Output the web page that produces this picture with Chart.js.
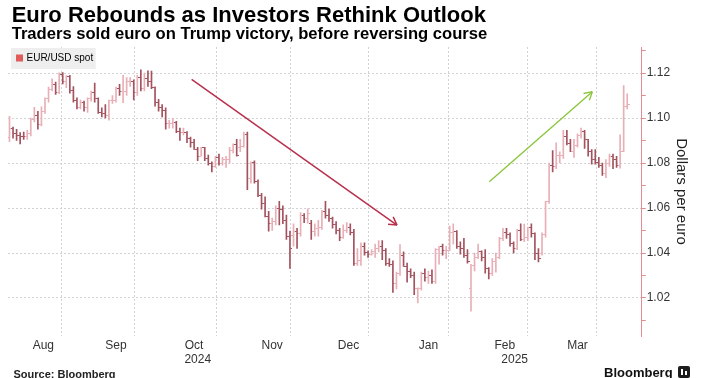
<!DOCTYPE html>
<html>
<head>
<meta charset="utf-8">
<script src="https://cdn.jsdelivr.net/npm/chart.js@4.4.1/dist/chart.umd.min.js"></script>
<style>
html,body{margin:0;padding:0;background:#fff;}
#wrap{position:relative;width:701px;height:378px;overflow:hidden;font-family:"Liberation Sans",Arial,sans-serif;}
#c{position:absolute;left:0;top:0;}
.t{position:absolute;white-space:nowrap;color:#000;font-weight:bold;}
#logo{position:absolute;left:678px;top:366px;width:12px;height:12px;background:#1d1d1d;border-radius:2px;}
#logo span{position:absolute;background:#fff;}
</style>
</head>
<body>
<div id="wrap">
<canvas id="c" width="701" height="378"></canvas>
<div class="t" style="left:11.7px;top:4px;font-size:22px;line-height:22px;">Euro Rebounds as Investors Rethink Outlook</div>
<div class="t" style="left:11.7px;top:26px;font-size:16.6px;line-height:16.6px;">Traders sold euro on Trump victory, before reversing course</div>
<div class="t" style="left:13.5px;top:369px;font-size:11px;line-height:11px;color:#222;">Source: Bloomberg</div>
<div class="t" style="left:604px;top:366px;font-size:13px;line-height:13px;color:#111;">Bloomberg</div>
<div id="logo"><span style="left:3px;top:3px;width:2px;height:6px;"></span><span style="left:6.5px;top:5px;width:2px;height:4px;"></span></div>
</div>
<script>
// ---------------- DATA ----------------
const firstDay = '2024-08-05';
const lastDay = '2025-04-04';
const seriesName = 'EUR/USD spot';
const monthLabels = ['Aug', 'Sep', 'Oct', 'Nov', 'Dec', 'Jan', 'Feb', 'Mar'];
const yearLabels = ['2024', '2025'];
const yTickValues = [1.01, 1.02, 1.03, 1.04, 1.05, 1.06, 1.07, 1.08, 1.09, 1.10, 1.11, 1.12, 1.13];
const yLabelValues = [1.02, 1.04, 1.06, 1.08, 1.10, 1.12];
const yAxisTitle = 'Dollars per euro';

const open = [
  1.0912,1.0953,1.0930,1.0922,1.0920,1.0917,1.0932,1.0993,1.1012,1.0969,1.1027,1.1087,1.1128,1.1151,1.1113,1.1192,1.1162,1.1184,1.1121,1.1077,
  1.1047,1.1070,1.1045,1.1087,1.1113,1.1085,1.1025,1.1018,1.1011,1.1076,1.1076,1.1132,1.1116,1.1117,1.1161,1.1163,1.1112,1.1180,1.1132,1.1177,1.1163,
  1.1135,1.1067,1.1047,1.1032,1.0975,1.0975,1.0978,1.0940,1.0935,1.0936,1.0909,1.0891,1.0862,1.0831,1.0867,1.0818,1.0797,1.0783,1.0826,1.0797,1.0817,1.0817,1.0856,
  1.0884,1.0870,1.0875,1.0928,1.0730,1.0802,1.0719,1.0655,1.0621,1.0563,1.0530,1.0541,1.0598,1.0595,1.0543,1.0473,1.0480,1.0495,1.0488,1.0566,1.0553,
  1.0530,1.0497,1.0510,1.0512,1.0586,1.0567,1.0554,1.0528,1.0500,1.0469,1.0502,1.0513,1.0491,1.0353,1.0365,1.0430,1.0404,1.0394,1.0408,1.0422,1.0430,1.0410,
  1.0354,1.0350,1.0265,1.0310,1.0388,1.0342,1.0319,1.0300,1.0240,1.0244,1.0308,1.0290,1.0300,1.0272,1.0416,1.0430,1.0410,1.0413,1.0493,1.0494,1.0430,1.0422,1.0390,
  1.0240,1.0345,1.0381,1.0405,1.0381,1.0330,1.0307,1.0362,1.0380,1.0464,1.0492,1.0484,1.0443,1.0422,1.0498,1.0458,1.0467,1.0512,1.0485,1.0398,
  1.0400,1.0482,1.0627,1.0790,1.0785,1.0833,1.0834,1.0918,1.0888,1.0852,1.0880,1.0922,1.0942,1.0903,1.0853,1.0815,1.0802,1.0791,1.0754,1.0800,1.0830,
  1.0816,1.0791,1.0851,1.1049
];
const high = [
  1.1008,1.0960,1.0950,1.0935,1.0937,1.0945,1.1000,1.1047,1.1030,1.1050,1.1090,1.1138,1.1174,1.1160,1.1201,1.1202,1.1189,1.1190,1.1140,1.1090,
  1.1080,1.1075,1.1090,1.1120,1.1155,1.1090,1.1045,1.1060,1.1080,1.1100,1.1137,1.1150,1.1190,1.1180,1.1180,1.1170,1.1190,1.1214,1.1200,1.1210,1.1209,
  1.1139,1.1083,1.1060,1.1045,1.0990,1.0998,1.0985,1.0955,1.0955,1.0940,1.0915,1.0905,1.0870,1.0870,1.0870,1.0835,1.0805,1.0830,1.0840,1.0825,1.0830,1.0870,1.0885,
  1.0905,1.0905,1.0937,1.0937,1.0805,1.0810,1.0725,1.0665,1.0650,1.0585,1.0555,1.0610,1.0630,1.0610,1.0568,1.0497,1.0530,1.0510,1.0580,1.0575,1.0596,
  1.0545,1.0530,1.0545,1.0590,1.0630,1.0595,1.0560,1.0540,1.0510,1.0525,1.0535,1.0530,1.0505,1.0420,1.0445,1.0445,1.0410,1.0415,1.0440,1.0455,1.0455,1.0420,
  1.0375,1.0365,1.0315,1.0437,1.0405,1.0355,1.0330,1.0315,1.0245,1.0315,1.0330,1.0320,1.0325,1.0420,1.0430,1.0440,1.0430,1.0520,1.0530,1.0500,1.0450,1.0465,1.0415,
  1.0350,1.0400,1.0440,1.0410,1.0415,1.0335,1.0375,1.0400,1.0470,1.0510,1.0510,1.0490,1.0450,1.0505,1.0530,1.0528,1.0515,1.0530,1.0490,1.0420,
  1.0490,1.0630,1.0800,1.0855,1.0890,1.0850,1.0945,1.0945,1.0905,1.0905,1.0930,1.0955,1.0945,1.0905,1.0860,1.0860,1.0825,1.0800,1.0815,1.0840,1.0840,
  1.0830,1.0925,1.1144,1.1107
];
const low = [
  1.0895,1.0910,1.0900,1.0885,1.0905,1.0905,1.0920,1.0983,1.0950,1.0965,1.1020,1.1070,1.1120,1.1105,1.1108,1.1152,1.1135,1.1110,1.1070,1.1040,
  1.1040,1.1030,1.1025,1.1075,1.1070,1.1020,1.1005,1.1000,1.0990,1.1065,1.1070,1.1100,1.1068,1.1100,1.1140,1.1080,1.1100,1.1120,1.1120,1.1140,1.1130,
  1.1053,1.1030,1.1005,1.0950,1.0955,1.0955,1.0935,1.0900,1.0925,1.0890,1.0870,1.0860,1.0810,1.0830,1.0810,1.0790,1.0760,1.0780,1.0790,1.0790,1.0780,1.0800,1.0845,
  1.0830,1.0850,1.0870,1.0682,1.0710,1.0710,1.0650,1.0595,1.0560,1.0497,1.0500,1.0525,1.0525,1.0530,1.0460,1.0332,1.0430,1.0420,1.0475,1.0535,1.0533,
  1.0460,1.0475,1.0475,1.0505,1.0555,1.0540,1.0510,1.0485,1.0455,1.0465,1.0490,1.0480,1.0345,1.0345,1.0345,1.0390,1.0380,1.0390,1.0380,1.0405,1.0370,1.0345,
  1.0340,1.0225,1.0240,1.0300,1.0340,1.0270,1.0290,1.0215,1.0178,1.0235,1.0275,1.0265,1.0265,1.0265,1.0350,1.0390,1.0375,1.0410,1.0440,1.0420,1.0395,1.0380,1.0355,
  1.0141,1.0320,1.0375,1.0365,1.0310,1.0285,1.0300,1.0315,1.0375,1.0455,1.0465,1.0430,1.0400,1.0415,1.0455,1.0450,1.0455,1.0470,1.0370,1.0360,
  1.0390,1.0470,1.0620,1.0760,1.0775,1.0800,1.0820,1.0880,1.0850,1.0825,1.0870,1.0910,1.0865,1.0830,1.0795,1.0795,1.0780,1.0745,1.0735,1.0785,1.0775,
  1.0780,1.0777,1.0850,1.1040
];
const close = [
  1.0953,1.0930,1.0922,1.0920,1.0917,1.0932,1.0993,1.1012,1.0969,1.1027,1.1087,1.1128,1.1151,1.1113,1.1192,1.1162,1.1184,1.1121,1.1077,1.1047,
  1.1070,1.1045,1.1087,1.1113,1.1085,1.1025,1.1018,1.1011,1.1076,1.1076,1.1132,1.1116,1.1117,1.1161,1.1163,1.1112,1.1180,1.1132,1.1177,1.1163,1.1135,
  1.1067,1.1047,1.1032,1.0975,1.0975,1.0978,1.0940,1.0935,1.0936,1.0909,1.0891,1.0862,1.0831,1.0867,1.0818,1.0797,1.0783,1.0826,1.0797,1.0817,1.0817,1.0856,1.0884,
  1.0833,1.0875,1.0928,1.0730,1.0802,1.0719,1.0655,1.0621,1.0563,1.0530,1.0541,1.0598,1.0595,1.0543,1.0473,1.0418,1.0495,1.0488,1.0566,1.0553,1.0576,
  1.0497,1.0510,1.0512,1.0586,1.0567,1.0554,1.0528,1.0500,1.0469,1.0502,1.0513,1.0491,1.0353,1.0365,1.0430,1.0404,1.0394,1.0408,1.0422,1.0430,1.0410,1.0354,
  1.0350,1.0265,1.0307,1.0388,1.0342,1.0319,1.0300,1.0244,1.0244,1.0308,1.0290,1.0300,1.0272,1.0416,1.0430,1.0410,1.0413,1.0493,1.0494,1.0430,1.0422,1.0390,1.0362,
  1.0345,1.0381,1.0405,1.0381,1.0330,1.0307,1.0362,1.0380,1.0464,1.0492,1.0484,1.0443,1.0422,1.0498,1.0458,1.0467,1.0512,1.0485,1.0398,1.0377,
  1.0482,1.0627,1.0790,1.0785,1.0833,1.0834,1.0918,1.0888,1.0852,1.0880,1.0922,1.0942,1.0903,1.0853,1.0815,1.0802,1.0791,1.0754,1.0800,1.0830,1.0816,
  1.0791,1.0851,1.1049,1.1062
];
// annotation arrows (x = trading-day index, y = EUR/USD level)
const downArrowX = [51.3, 109.15];
const downArrowY = [1.1172, 1.0524];
const upArrowX = [135.15, 164.17];
const upArrowY = [1.0717, 1.1117];

// ---------------- BUILD ----------------
function tradingDays(a, b) {
  const out = [];
  const d = new Date(a + 'T00:00:00Z'), e = new Date(b + 'T00:00:00Z');
  while (d <= e) {
    const w = d.getUTCDay();
    if (w !== 0 && w !== 6) out.push(d.toISOString().slice(0, 10));
    d.setUTCDate(d.getUTCDate() + 1);
  }
  return out;
}
const dates = tradingDays(firstDay, lastDay);
const idx = dates.map((d, i) => i);

const X_MIN = -0.42, X_MAX = 178.08;
const Y_MIN = 1.00311, Y_MAX = 1.13156;

const UP = '#e8afb6', DOWN = '#a3525e', GRID = '#d2d2d2', AXIS = '#e58a90';

// month boundaries from the dates
const bounds = [];
let yearBound = null;
for (let i = 1; i < dates.length; i++) {
  if (dates[i].slice(0, 7) !== dates[i - 1].slice(0, 7)) bounds.push(i - 0.5);
  if (dates[i].slice(0, 4) !== dates[i - 1].slice(0, 4)) yearBound = i - 0.5;
}
const edges = [X_MIN].concat(bounds);
const xTicks = [];
bounds.forEach(b => xTicks.push({value: b, lbl: '', grid: true}));
monthLabels.forEach((m, k) => xTicks.push({value: (edges[k] + edges[k + 1]) / 2, lbl: m, grid: false}));
xTicks.push({value: (X_MIN + yearBound) / 2, lbl: ['', yearLabels[0]], grid: false});
xTicks.push({value: (yearBound + X_MAX) / 2, lbl: ['', yearLabels[1]], grid: false});
xTicks.sort((a, b) => a.value - b.value);

const isLabeled = v => yLabelValues.some(l => Math.abs(l - v) < 1e-6);

function tickImg(color, side) {
  const c = document.createElement('canvas');
  c.width = 5; c.height = 1;
  const g = c.getContext('2d');
  g.fillStyle = color;
  if (side === 'L') g.fillRect(0, 0, 2, 1); else g.fillRect(3, 0, 2, 1);
  return c;
}
const imgs = {UL: tickImg(UP, 'L'), UR: tickImg(UP, 'R'), DL: tickImg(DOWN, 'L'), DR: tickImg(DOWN, 'R')};
const isUp = i => close[i] >= open[i];

// legend: placed inside the plot, top-left, on a light grey box
const legendBg = {
  id: 'legendBg',
  afterLayout(chart) {
    const lg = chart.legend;
    if (!lg || lg._bgPatched) return;
    const orig = lg.draw;
    lg.draw = function () {
      const ctx = this.ctx;
      const hb = this.legendHitBoxes && this.legendHitBoxes[0];
      const ca = this.chart.chartArea;
      if (!hb) { orig.apply(this, arguments); return; }
      const tx = ca.left + 9.5, ty = ca.top + 6;
      const dx = tx - hb.left, dy = ty - hb.top;
      ctx.save();
      ctx.fillStyle = '#eeeeee';
      const l = tx - 6.5, r = tx + hb.width + 2.5;
      ctx.fillRect(l, ty - 5, r - l, hb.height + 11);
      ctx.restore();
      ctx.save();
      ctx.translate(dx, dy);
      orig.apply(this, arguments);
      ctx.restore();
    };
    lg._bgPatched = true;
  }
};

const arrowHeads = {
  id: 'arrowHeads',
  afterDatasetsDraw(chart) {
    const ctx = chart.ctx;
    chart.data.datasets.forEach((ds, di) => {
      if (!ds.isArrow) return;
      const pts = chart.getDatasetMeta(di).data;
      if (pts.length < 2) return;
      const a = pts[pts.length - 2], b = pts[pts.length - 1];
      const ang = Math.atan2(b.y - a.y, b.x - a.x);
      ctx.save();
      ctx.strokeStyle = ds.borderColor;
      ctx.lineWidth = ds.borderWidth;
      ctx.beginPath();
      [-1, 1].forEach(s => {
        const t = ang + Math.PI + s * 0.52;
        ctx.moveTo(b.x, b.y);
        ctx.lineTo(b.x + 9 * Math.cos(t), b.y + 9 * Math.sin(t));
      });
      ctx.stroke();
      ctx.restore();
    });
  }
};

Chart.defaults.font.family = "'Liberation Sans', Arial, sans-serif";
Chart.defaults.color = '#333';

new Chart(document.getElementById('c'), {
  type: 'bar',
  data: {
    datasets: [
      {
        type: 'line', label: 'Selloff', isArrow: true, order: 0,
        data: downArrowX.map((x, k) => ({x: x, y: downArrowY[k]})),
        borderColor: '#b8304c', borderWidth: 1.5, pointRadius: 0, fill: false
      },
      {
        type: 'line', label: 'Rebound', isArrow: true, order: 0,
        data: upArrowX.map((x, k) => ({x: x, y: upArrowY[k]})),
        borderColor: '#8cc63f', borderWidth: 1.4, pointRadius: 0, fill: false
      },
      {
        type: 'line', label: 'Open', order: 1, showLine: false,
        data: idx.map(i => ({x: i, y: open[i]})),
        pointRadius: 1, pointStyle: idx.map(i => isUp(i) ? imgs.UL : imgs.DL)
      },
      {
        type: 'line', label: 'Close', order: 1, showLine: false,
        data: idx.map(i => ({x: i, y: close[i]})),
        pointRadius: 1, pointStyle: idx.map(i => isUp(i) ? imgs.UR : imgs.DR)
      },
      {
        type: 'bar', label: seriesName, order: 2,
        data: idx.map(i => ({x: i, y: [low[i], high[i]]})),
        backgroundColor: idx.map(i => isUp(i) ? UP : DOWN),
        borderWidth: 0, barThickness: 1, grouped: false
      }
    ]
  },
  options: {
    responsive: false,
    animation: false,
    devicePixelRatio: 1,
    events: [],
    layout: {padding: {top: 47, left: 8, right: 0, bottom: 0}},
    plugins: {
      title: {display: false},
      tooltip: {enabled: false},
      legend: {
        position: 'chartArea',
        align: 'start',
        labels: {
          boxWidth: 4, boxHeight: 4, padding: 6,
          font: {size: 10},
          color: '#333',
          generateLabels: () => [{
            text: seriesName, fillStyle: '#e05c5c', strokeStyle: '#e05c5c',
            lineWidth: 3, datasetIndex: 4, hidden: false
          }]
        }
      }
    },
    scales: {
      x: {
        type: 'linear', min: X_MIN, max: X_MAX, offset: false,
        afterBuildTicks: s => { s.ticks = xTicks.map(t => Object.assign({}, t)); },
        afterFit: s => { s.height = 42; },
        ticks: {
          autoSkip: false, maxRotation: 0, minRotation: 0, padding: 2,
          font: {size: 12}, color: '#333',
          callback: (v, i, t) => t[i].lbl
        },
        grid: {
          color: c => (c.tick && c.tick.grid) ? GRID : 'rgba(0,0,0,0)',
          drawTicks: false, lineWidth: 1
        },
        border: {display: false, dash: [2, 2]}
      },
      y: {
        type: 'linear', position: 'right', min: Y_MIN, max: Y_MAX,
        afterBuildTicks: s => { s.ticks = yTickValues.map(v => ({value: v})); },
        afterFit: s => { s.width = 59.3; },
        ticks: {
          padding: 1, font: {size: 12}, color: '#333',
          callback: v => isLabeled(v) ? v.toFixed(2) : ''
        },
        grid: {
          color: c => (c.tick && isLabeled(c.tick.value)) ? GRID : 'rgba(0,0,0,0)',
          tickColor: AXIS, tickLength: 4, tickWidth: 1, lineWidth: 1
        },
        border: {display: true, color: AXIS, width: 1, dash: [2, 2]},
        title: {
          display: true, text: yAxisTitle, color: '#222',
          font: {size: 15}, padding: {top: 10.5, bottom: 0}
        }
      }
    }
  },
  plugins: [legendBg, arrowHeads]
});
</script>
</body>
</html>
